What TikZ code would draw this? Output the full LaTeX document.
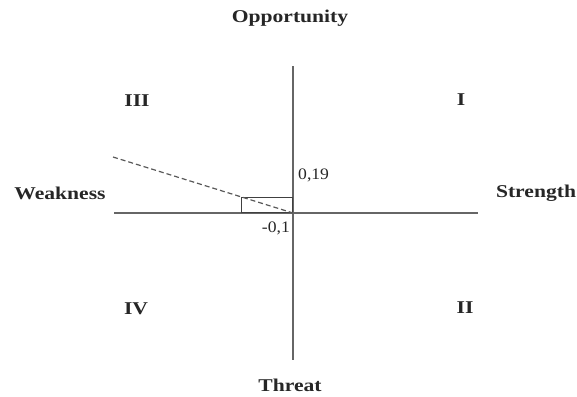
\documentclass[tikz,border=0pt]{standalone}
\usepackage{fontspec}
\setmainfont{Liberation Serif}
\newfontfamily\wideserif[FakeStretch=1.2]{Liberation Serif}
\newfontfamily\numserif[FakeStretch=1.1]{Liberation Serif}
\usetikzlibrary{positioning}

\begin{document}
\begin{tikzpicture}[
  x=1pt, y=-1pt,
  axis/.style={draw=black!60, line width=1.5pt},
  lbl/.style={font=\wideserif\bfseries\fontsize{18}{20}\selectfont,
    text=black!85, inner sep=0pt},
  num/.style={font=\numserif\fontsize{16}{18}\selectfont,
    text=black!85, inner sep=0pt},
  trend/.style={draw=black!65, line width=1.2pt, dash pattern=on 5pt off 3pt}
]
\useasboundingbox (0,0) rectangle (577,396);

% axes
\coordinate (O) at (293,213);
\coordinate (N) at (293,66);
\coordinate (S) at (293,360);
\coordinate (W) at (114,213);
\coordinate (E) at (478,213);
\coordinate (far) at (113,157);

\draw[axis] (N) -- (S);
\draw[axis] (W) -- (E);

% position of the strategy
\node[draw=black!75, line width=1.3pt, minimum width=51pt, minimum height=15pt,
  inner sep=0pt, anchor=south east] (pos) at (O) {};
\draw[trend] (far) -- (O);

% axis names
\node[lbl] (opp) at (290,18) {Opportunity};
\node[lbl] (thr) at (290,385) {Threat};
\node[lbl] (weak) at (60,193) {Weakness};
\node[lbl] (str) at (536,193) {Strength};

% quadrants
\node[lbl] (q3) at (137,101) {III};
\node[lbl] (q1) at (461,100) {I};
\node[lbl] (q4) at (136,309) {IV};
\node[lbl] (q2) at (465,308) {II};

% values
\node[num, anchor=west] (yval) at (298,175) {0,19};
\node[num, anchor=east] (xval) at (290,228) {-0,1};
\end{tikzpicture}
\end{document}
